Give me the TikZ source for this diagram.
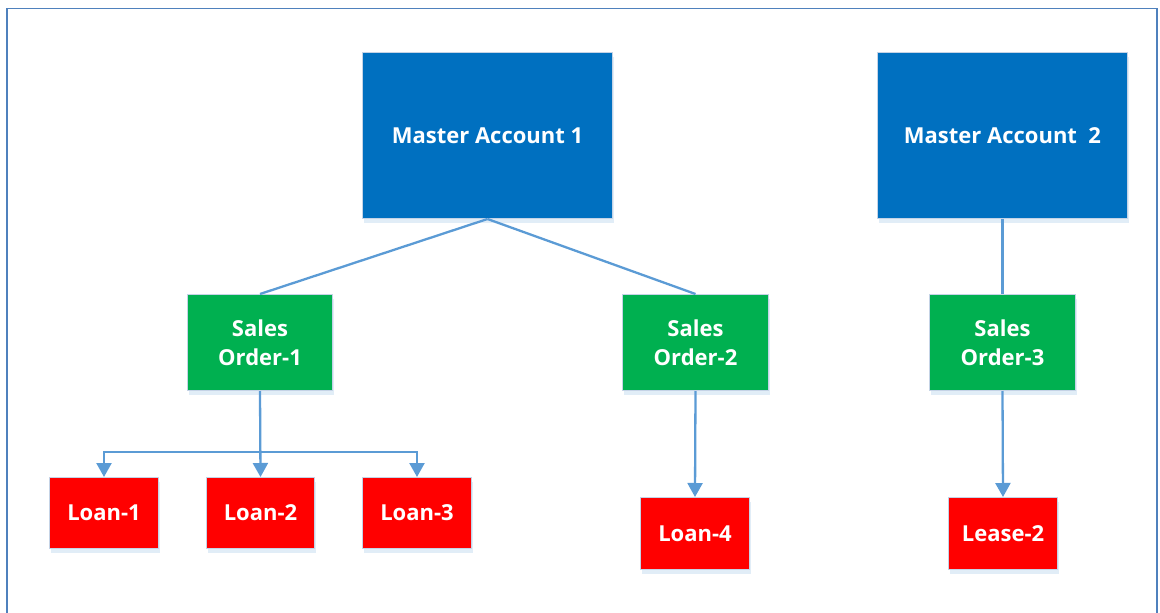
\documentclass[tikz,border=0pt]{standalone}
\usepackage{fontspec}
\setmainfont{Open Sans}
\usetikzlibrary{arrows.meta,shadows,calc}
\definecolor{mablue}{HTML}{0070C0}
\definecolor{sogreen}{HTML}{00B050}
\definecolor{lnred}{HTML}{FF0000}
\definecolor{conn}{HTML}{5B9BD5}
\definecolor{frame}{HTML}{4F81BD}
\definecolor{edge}{HTML}{C5D3E6}
\tikzset{
  box/.style={draw=edge, line width=1pt, text=white, font=\bfseries\fontsize{22}{29}\selectfont,
    align=center, inner sep=0pt, anchor=north west,
    drop shadow={shadow xshift=1pt, shadow yshift=-4pt, fill=conn, opacity=0.18}},
  mabox/.style={box, fill=mablue},
  sobox/.style={box, fill=sogreen},
  lnbox/.style={box, fill=lnred},
  link/.style={draw=conn, line width=2.3pt},
  arr/.style={link, -{Triangle[width=15pt,length=14pt]}}
}
\begin{document}
\begin{tikzpicture}[x=1pt,y=-1pt]
\useasboundingbox (0,0) rectangle (1160,613);
\draw[frame, line width=1.8pt] (7,620) -- (7,8.5) -- (1157,8.5) -- (1157,620);
% master accounts
\node[mabox, minimum width=250pt, minimum height=166pt] (ma1) at (362,52) {Master Account 1};
\node[mabox, minimum width=250pt, minimum height=166pt] (ma2) at (877,52) {Master Account\ \ 2};
% sales orders
\node[sobox, minimum width=145pt, minimum height=96pt] (so1) at (187,294) {Sales\\Order-1};
\node[sobox, minimum width=146pt, minimum height=96pt] (so2) at (622,294) {Sales\\Order-2};
\node[sobox, minimum width=146pt, minimum height=96pt] (so3) at (929,294) {Sales\\Order-3};
% loans
\node[lnbox, minimum width=109pt, minimum height=71pt] (l1) at (49,477) {Loan-1};
\node[lnbox, minimum width=108pt, minimum height=71pt] (l2) at (206,477) {Loan-2};
\node[lnbox, minimum width=109pt, minimum height=71pt] (l3) at (362,477) {Loan-3};
\node[lnbox, minimum width=109pt, minimum height=72pt] (l4) at (640,497) {Loan-4};
\node[lnbox, minimum width=109pt, minimum height=72pt] (l5) at (948,497) {Lease-2};
% connectors
\coordinate (bus) at ($(so1.south)+(0,61)$);
\draw[link] (ma1.south) -- (so1.north);
\draw[link] (ma1.south) -- (so2.north);
\draw[link] (ma2.south) -- (so3.north);
\draw[arr] (so1.south) -- (l2.north);
\draw[arr] (bus) -| (l1.north);
\draw[arr] (bus) -| (l3.north);
\draw[arr] (so2.south) -- (l4.north);
\draw[arr] (so3.south) -- (l5.north);
\end{tikzpicture}
\end{document}
